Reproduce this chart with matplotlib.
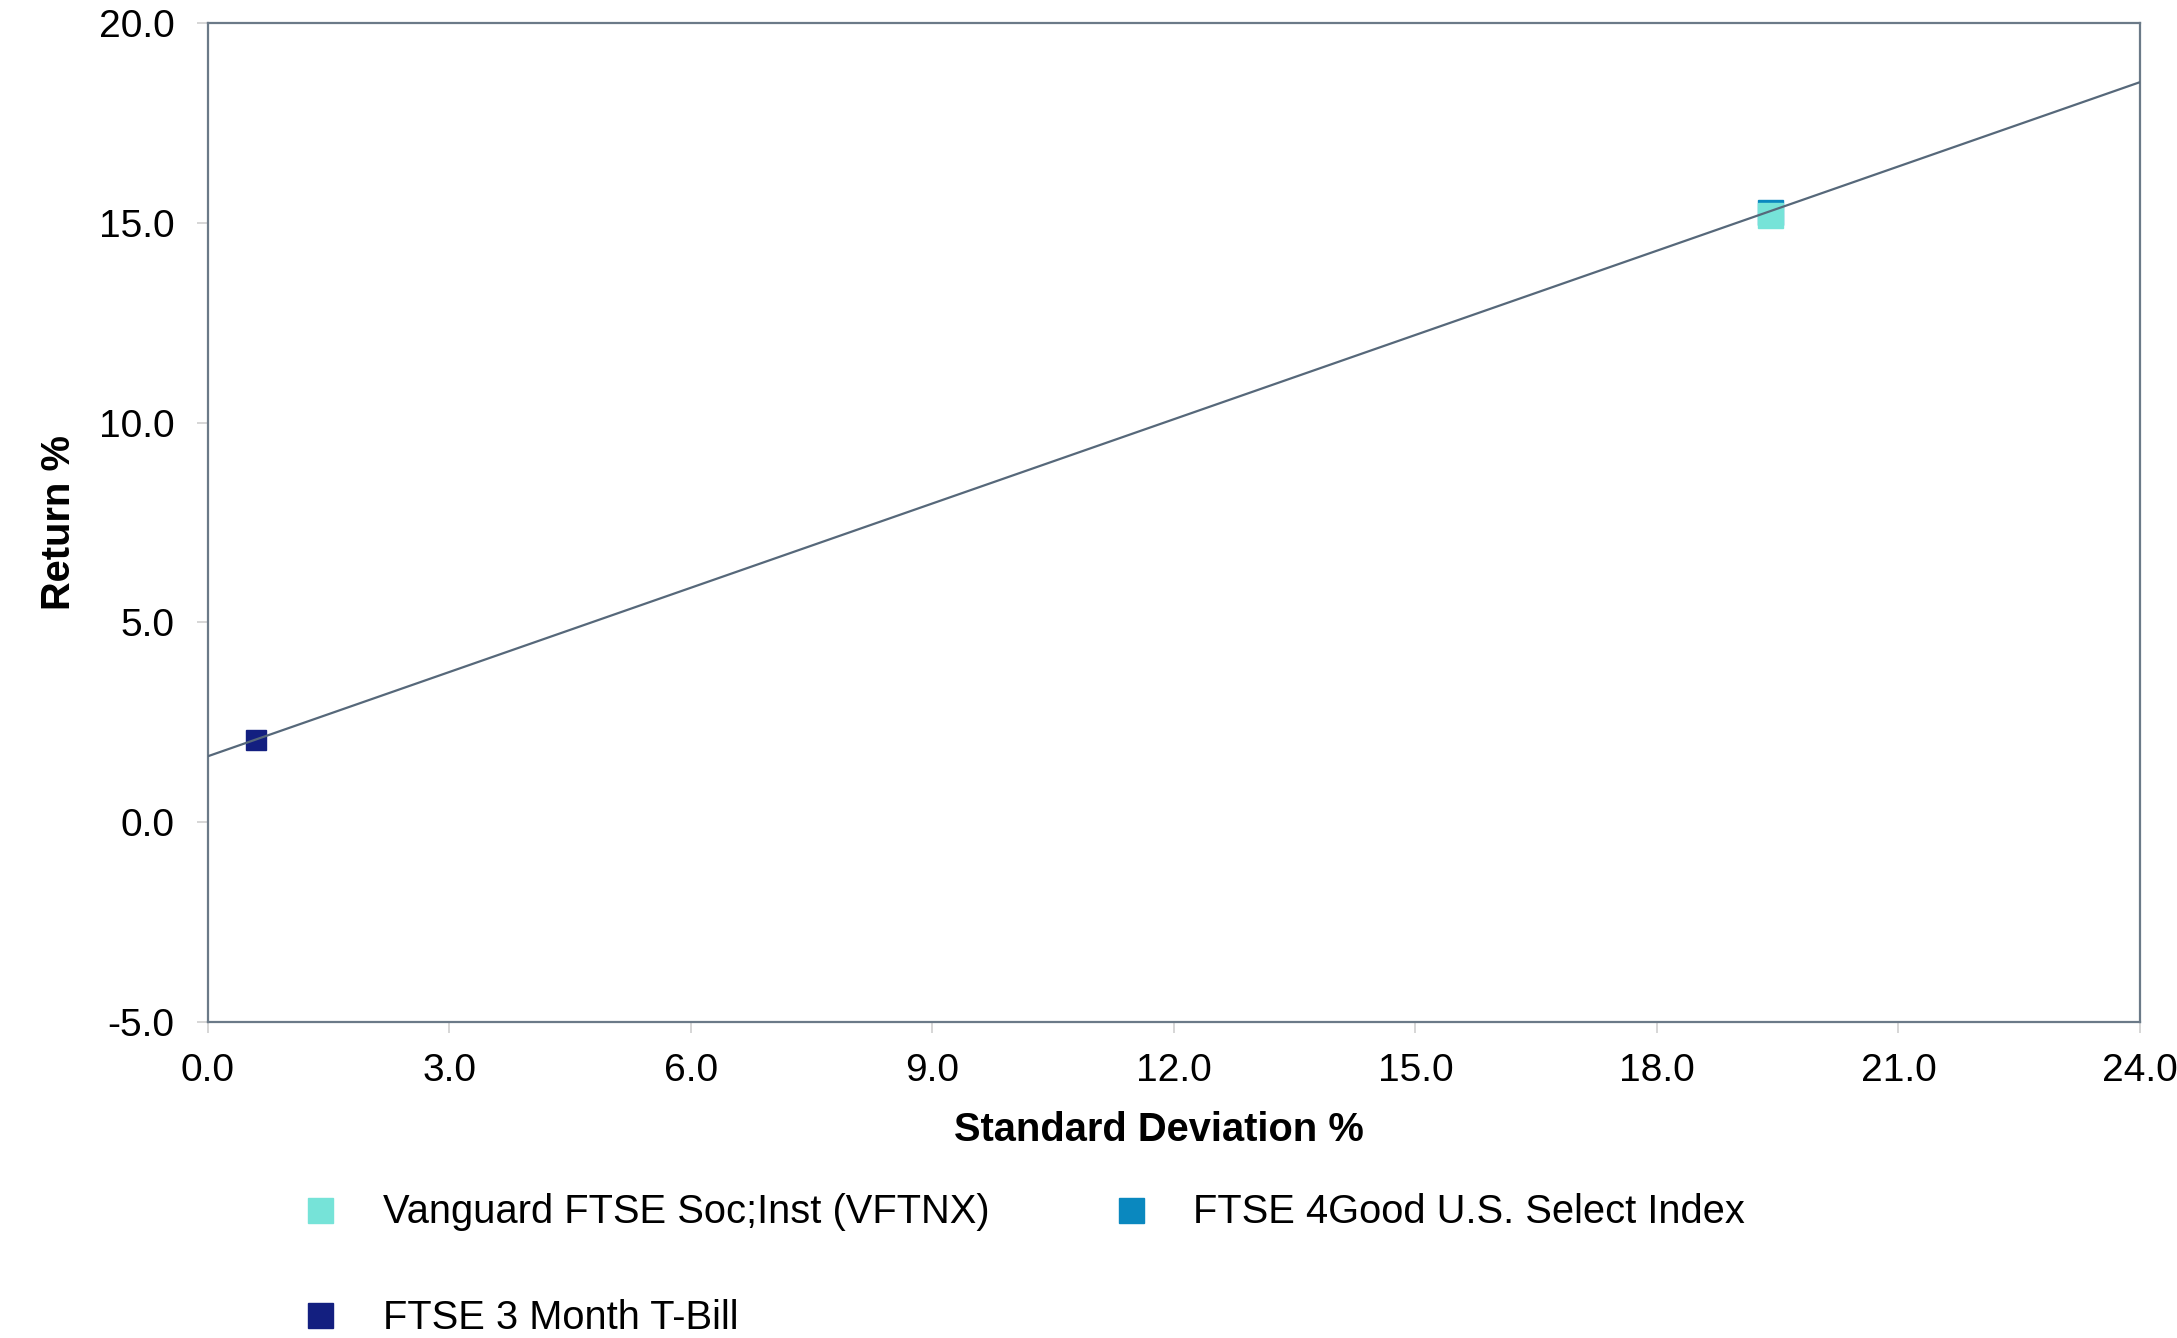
import matplotlib
matplotlib.use("Agg")
import matplotlib.pyplot as plt
from matplotlib.lines import Line2D

plt.rcParams['font.family'] = ['Liberation Sans', 'DejaVu Sans']

# data
names = ["Vanguard FTSE Soc;Inst (VFTNX)", "FTSE 4Good U.S. Select Index", "FTSE 3 Month T-Bill"]
std_dev = [19.40, 19.40, 0.60]
returns = [15.19, 15.26, 2.06]
colors = ["#76e3d8", "#0a88bf", "#131f80"]
marker_sizes = [18, 18, 15]

# capital market line endpoints
line_x = [0.0, 24.0]
line_y = [1.65, 18.52]

x_ticks = [0.0, 3.0, 6.0, 9.0, 12.0, 15.0, 18.0, 21.0, 24.0]
y_ticks = [-5.0, 0.0, 5.0, 10.0, 15.0, 20.0]

spine_col = "#6b7a88"

fig = plt.figure(figsize=(21.77, 13.38), dpi=100)
ax = fig.add_axes([0.0955, 0.2362, 0.8875, 0.7466])

# draw 4Good first so Vanguard sits on top of it
for i in [1, 0, 2]:
    ax.plot(std_dev[i], returns[i], marker="s", linestyle="none",
            markersize=marker_sizes[i], color=colors[i], zorder=3)

ax.plot(line_x, line_y, color="#56687a", linewidth=1.6, zorder=4)

ax.set_xlim(0, 24)
ax.set_ylim(-5, 20)
ax.set_xticks(x_ticks)
ax.set_yticks(y_ticks)
ax.set_xticklabels([f"{v:.1f}" for v in x_ticks])
ax.set_yticklabels([f"{v:.1f}" for v in y_ticks])
ax.tick_params(axis="both", labelsize=28, colors="#d0d0d0", labelcolor="black",
               length=8, width=1.2)
ax.tick_params(axis="x", pad=14)
ax.tick_params(axis="y", pad=16)

for sp in ax.spines.values():
    sp.set_color(spine_col)
    sp.set_linewidth(1.6)

ax.set_xlabel("Standard Deviation %", fontsize=28.7, fontweight="bold")
ax.set_ylabel("Return %", fontsize=28.7, fontweight="bold")
ax.xaxis.set_label_coords(0.492, -0.108)
ax.yaxis.set_label_coords(-0.077, 0.5)
ax.xaxis.label.set_verticalalignment("center")
ax.yaxis.label.set_verticalalignment("center")

handles = [Line2D([], [], marker="s", linestyle="none", markersize=18, color=colors[i])
           for i in range(3)]
order = [0, 2, 1]
fig.legend([handles[i] for i in order], [names[i] for i in order],
           loc="upper left", bbox_to_anchor=(0.138, 0.108), ncol=2,
           frameon=False, fontsize=28.7, borderpad=0, borderaxespad=0,
           handlelength=1.0, handletextpad=1.07, labelspacing=1.7,
           columnspacing=3.04)

fig.savefig("out.png", dpi=100)
